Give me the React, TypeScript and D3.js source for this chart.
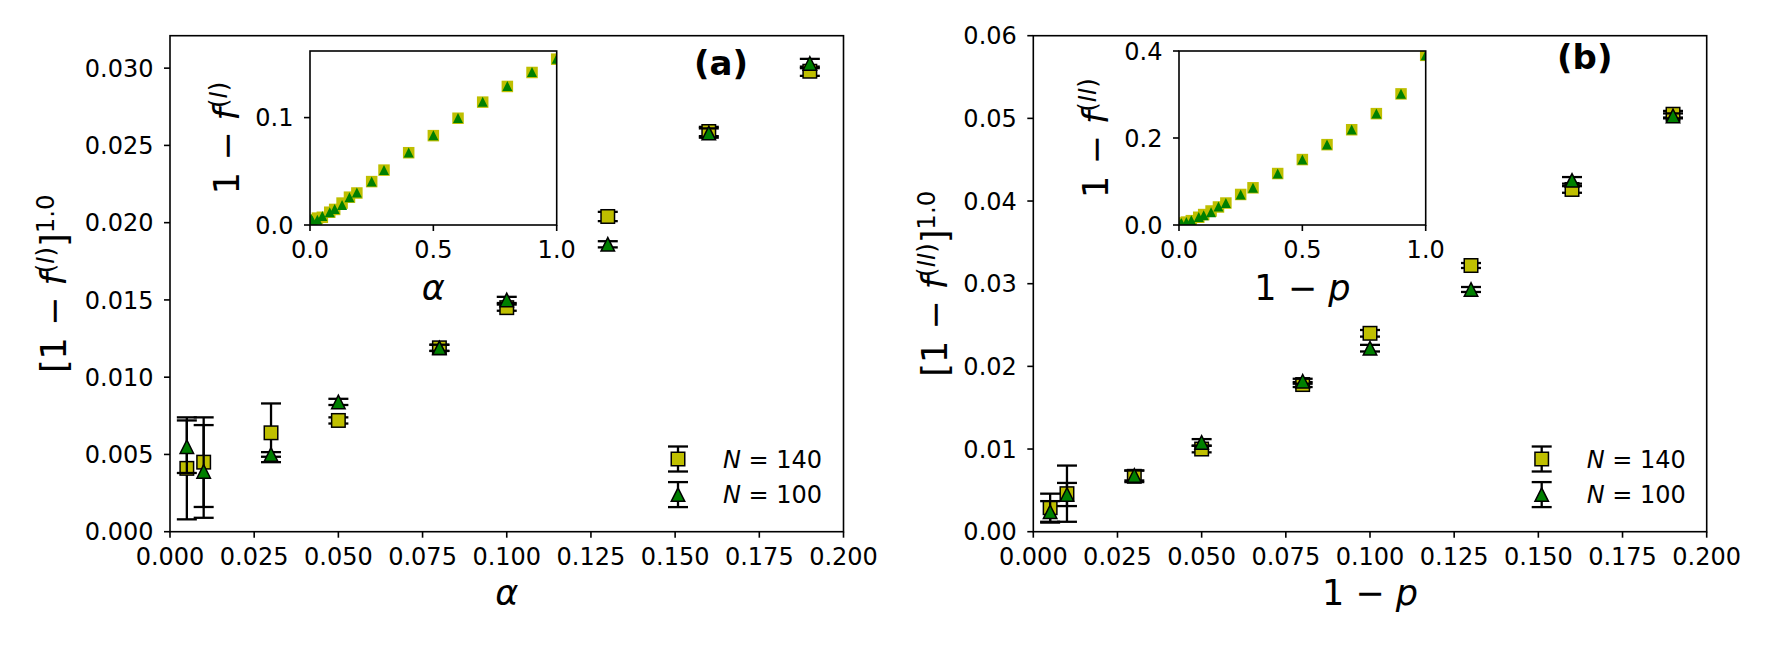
import React from "react";
import * as d3 from "d3";

// shared x positions
const xMain = [0.005, 0.01, 0.03, 0.05, 0.08, 0.1, 0.13, 0.16, 0.19];
const xTail = [0.25, 0.3, 0.4, 0.5, 0.6, 0.7, 0.8, 0.9, 1.0];

// panel (a): [1 - f^(I)] vs alpha
const a140 = [0.0041, 0.0045, 0.0064, 0.0072, 0.0119, 0.0145, 0.0204, 0.0259, 0.0298];
const a140Err = [0.0033, 0.0029, 0.0019, 0.0002, 0.0002, 0.0002, 0.0003, 0.0003, 0.0003];
const a100 = [0.0055, 0.0039, 0.005, 0.0084, 0.0119, 0.015, 0.0186, 0.0258, 0.0303];
const a100Err = [0.0017, 0.003, 0.00015, 0.0002, 0.0002, 0.0002, 0.0002, 0.0003, 0.0003];
const aTail140 = [0.0404, 0.0511, 0.0673, 0.0832, 0.0994, 0.1144, 0.129, 0.142, 0.1544];
const aTail100 = [0.0406, 0.0513, 0.0676, 0.0835, 0.0997, 0.1148, 0.1293, 0.1424, 0.1548];

// panel (b): [1 - f^(II)] vs 1 - p
const b140 = [0.0029, 0.0046, 0.0067, 0.01, 0.0178, 0.024, 0.0322, 0.0414, 0.0505];
const b140Err = [0.0017, 0.0034, 0.0007, 0.0004, 0.0003, 0.0004, 0.0003, 0.0004, 0.0004];
const b100 = [0.0024, 0.0045, 0.0068, 0.0108, 0.0182, 0.0222, 0.0293, 0.0425, 0.0503];
const b100Err = [0.0013, 0.0014, 0.0006, 0.0004, 0.0003, 0.0004, 0.0003, 0.0004, 0.0003];
const bTail140 = [0.0702, 0.0855, 0.1183, 0.1504, 0.1847, 0.219, 0.256, 0.3014, 0.39];
const bTail100 = [0.0704, 0.0858, 0.1186, 0.1507, 0.185, 0.2194, 0.2564, 0.3018, 0.3905];

// ticks
const xTicksMain = [0, 0.025, 0.05, 0.075, 0.1, 0.125, 0.15, 0.175, 0.2];
const aYTicks = [0, 0.005, 0.01, 0.015, 0.02, 0.025, 0.03];
const bYTicks = [0, 0.01, 0.02, 0.03, 0.04, 0.05, 0.06];
const insetXTicks = [0, 0.5, 1];
const aInsetYTicks = [0, 0.1];
const bInsetYTicks = [0, 0.2, 0.4];

const seriesNames = ["140", "100"];

const YELLOW = "#bfbf00";
const GREEN = "#008000";
const FONT = "DejaVu Sans";
const TICK = 24;
const LABEL = 35;
const MS = 13.5;

type Box = { left: number; top: number; width: number; height: number };

function Square({ cx, cy, s, edge }: { cx: number; cy: number; s: number; edge: boolean }) {
  return (
    <rect x={cx - s / 2} y={cy - s / 2} width={s} height={s} fill={YELLOW}
      stroke={edge ? "#000" : "none"} strokeWidth={1.5} />
  );
}

function Triangle({ cx, cy, s, edge }: { cx: number; cy: number; s: number; edge: boolean }) {
  const h = s / 2;
  return (
    <path d={`M${cx},${cy - h}L${cx - h},${cy + h}L${cx + h},${cy + h}Z`} fill={GREEN}
      stroke={edge ? "#000" : "none"} strokeWidth={1.5} strokeLinejoin="miter" />
  );
}

function ErrBar({ x, y0, y1 }: { x: number; y0: number; y1: number }) {
  return (
    <g stroke="#000" strokeWidth={2.3}>
      <line x1={x} x2={x} y1={y0} y2={y1} />
      <line x1={x - 10} x2={x + 10} y1={y0} y2={y0} />
      <line x1={x - 10} x2={x + 10} y1={y1} y2={y1} />
    </g>
  );
}

function Axes({ box, x, y, xTicks, yTicks, xFmt, yFmt }: any) {
  const bottom = box.top + box.height;
  return (
    <g fontFamily={FONT} fontSize={TICK}>
      {xTicks.map((t: number) => (
        <g key={"x" + t}>
          <line x1={x(t)} x2={x(t)} y1={bottom} y2={bottom + 6} stroke="#000" strokeWidth={1.6} />
          <text x={x(t)} y={bottom + 33} textAnchor="middle">{xFmt(t)}</text>
        </g>
      ))}
      {yTicks.map((t: number) => (
        <g key={"y" + t}>
          <line x1={box.left - 6} x2={box.left} y1={y(t)} y2={y(t)} stroke="#000" strokeWidth={1.6} />
          <text x={box.left - 16.5} y={y(t)} dy="0.36em" textAnchor="end">{yFmt(t)}</text>
        </g>
      ))}
      <rect x={box.left} y={box.top} width={box.width} height={box.height} fill="none"
        stroke="#000" strokeWidth={1.6} />
    </g>
  );
}

// f^{(I)} style label pieces
function FLabel({ roman, bracket }: { roman: string; bracket: boolean }) {
  const sup = 12.5;
  return (
    <>
      {bracket ? "[1 \u2212 " : "1 \u2212 "}
      <tspan fontStyle="italic">f</tspan>
      <tspan dy={-sup} fontSize={LABEL * 0.7}>
        (<tspan fontStyle="italic">{roman}</tspan>)
      </tspan>
      {bracket ? (
        <>
          <tspan dy={sup}>]</tspan>
          <tspan dy={-sup} fontSize={LABEL * 0.7}>1.0</tspan>
        </>
      ) : null}
    </>
  );
}

function Panel(props: {
  box: Box; inset: Box; yMax: number; insetYMax: number;
  yTicks: number[]; insetYTicks: number[]; yFmt: (v: number) => string;
  s140: number[]; e140: number[]; s100: number[]; e100: number[];
  t140: number[]; t100: number[];
  roman: string; xLabel: "alpha" | "p"; tag: string; tagPos: [number, number];
  yLabelX: number; insetYLabelX: number; legendX: number; legendTextX: number; id: string;
}) {
  const { box, inset } = props;
  const x = d3.scaleLinear().domain([0, 0.2]).range([box.left, box.left + box.width]);
  const y = d3.scaleLinear().domain([0, props.yMax]).range([box.top + box.height, box.top]);
  const ix = d3.scaleLinear().domain([0, 1]).range([inset.left, inset.left + inset.width]);
  const iy = d3.scaleLinear().domain([0, props.insetYMax]).range([inset.top + inset.height, inset.top]);
  const fmt3 = d3.format(".3f");
  const fmt1 = d3.format(".1f");
  const insetX = xMain.concat(xTail);
  const in140 = props.s140.concat(props.t140);
  const in100 = props.s100.concat(props.t100);
  const legendRows = [459, 494.6];

  const xLabelText = () =>
    props.xLabel === "alpha" ? (
      <tspan fontStyle="italic">α</tspan>
    ) : (
      <>
        {"1 \u2212 "}
        <tspan fontStyle="italic">p</tspan>
      </>
    );

  return (
    <g>
      <rect x={box.left} y={box.top} width={box.width} height={box.height} fill="#fff" />
      {/* N = 140 squares, then N = 100 triangles on top */}
      {xMain.map((v, i) => (
        <ErrBar key={"e140" + i} x={x(v)} y0={y(props.s140[i] + props.e140[i])} y1={y(props.s140[i] - props.e140[i])} />
      ))}
      {xMain.map((v, i) => (
        <Square key={"s140" + i} cx={x(v)} cy={y(props.s140[i])} s={MS} edge />
      ))}
      {xMain.map((v, i) => (
        <ErrBar key={"e100" + i} x={x(v)} y0={y(props.s100[i] + props.e100[i])} y1={y(props.s100[i] - props.e100[i])} />
      ))}
      {xMain.map((v, i) => (
        <Triangle key={"s100" + i} cx={x(v)} cy={y(props.s100[i])} s={MS} edge />
      ))}
      <Axes box={box} x={x} y={y} xTicks={xTicksMain} yTicks={props.yTicks} xFmt={fmt3} yFmt={props.yFmt} />

      <text x={box.left + box.width / 2} y={605} textAnchor="middle" fontFamily={FONT} fontSize={LABEL}>
        {xLabelText()}
      </text>
      <text transform={`translate(${props.yLabelX},${box.top + box.height / 2}) rotate(-90)`}
        textAnchor="middle" fontFamily={FONT} fontSize={LABEL}>
        <FLabel roman={props.roman} bracket />
      </text>

      <text x={props.tagPos[0]} y={props.tagPos[1]} fontFamily={FONT} fontSize={34} fontWeight="bold">
        {props.tag}
      </text>

      {/* legend */}
      {seriesNames.map((n, k) => {
        const cy = legendRows[k];
        return (
          <g key={"leg" + n}>
            <ErrBar x={props.legendX} y0={cy - 12.5} y1={cy + 12.5} />
            {k === 0 ? (
              <Square cx={props.legendX} cy={cy} s={MS} edge />
            ) : (
              <Triangle cx={props.legendX} cy={cy} s={MS} edge />
            )}
            <text x={props.legendTextX} y={cy} dy="0.36em" fontFamily={FONT} fontSize={TICK}>
              <tspan fontStyle="italic">N</tspan>
              {" = " + n}
            </text>
          </g>
        );
      })}

      {/* inset */}
      <clipPath id={"clip" + props.id}>
        <rect x={inset.left} y={inset.top} width={inset.width} height={inset.height} />
      </clipPath>
      <rect x={inset.left} y={inset.top} width={inset.width} height={inset.height} fill="#fff" />
      <g clipPath={`url(#clip${props.id})`}>
        {insetX.map((v, i) => (
          <Square key={"is" + i} cx={ix(v)} cy={iy(in140[i])} s={11.5} edge={false} />
        ))}
        {insetX.map((v, i) => (
          <Triangle key={"it" + i} cx={ix(v)} cy={iy(in100[i])} s={10} edge={false} />
        ))}
      </g>
      <Axes box={inset} x={ix} y={iy} xTicks={insetXTicks} yTicks={props.insetYTicks} xFmt={fmt1} yFmt={fmt1} />
      <text x={inset.left + inset.width / 2} y={300} textAnchor="middle" fontFamily={FONT} fontSize={LABEL}>
        {xLabelText()}
      </text>
      <text transform={`translate(${props.insetYLabelX},${inset.top + inset.height / 2}) rotate(-90)`}
        textAnchor="middle" fontFamily={FONT} fontSize={LABEL}>
        <FLabel roman={props.roman} bracket={false} />
      </text>
    </g>
  );
}

export default function App() {
  return (
    <svg width={1770} height={645} style={{ position: "absolute", left: 0, top: 0, background: "#fff" }}>
      <rect width={1770} height={645} fill="#fff" />
      <Panel
        id="a"
        box={{ left: 170, top: 35.7, width: 673.5, height: 496 }}
        inset={{ left: 310, top: 51, width: 246.7, height: 174 }}
        yMax={0.0321}
        insetYMax={0.162}
        yTicks={aYTicks}
        insetYTicks={aInsetYTicks}
        yFmt={d3.format(".3f")}
        s140={a140} e140={a140Err} s100={a100} e100={a100Err}
        t140={aTail140} t100={aTail100}
        roman="I" xLabel="alpha" tag="(a)" tagPos={[694, 75]}
        yLabelX={66} insetYLabelX={239}
        legendX={678} legendTextX={723}
      />
      <Panel
        id="b"
        box={{ left: 1033.3, top: 35.7, width: 673.4, height: 496 }}
        inset={{ left: 1179, top: 51, width: 246.7, height: 174 }}
        yMax={0.06}
        insetYMax={0.4}
        yTicks={bYTicks}
        insetYTicks={bInsetYTicks}
        yFmt={d3.format(".2f")}
        s140={b140} e140={b140Err} s100={b100} e100={b100Err}
        t140={bTail140} t100={bTail100}
        roman="II" xLabel="p" tag="(b)" tagPos={[1557, 69]}
        yLabelX={947} insetYLabelX={1108}
        legendX={1541.7} legendTextX={1586.7}
      />
    </svg>
  );
}
